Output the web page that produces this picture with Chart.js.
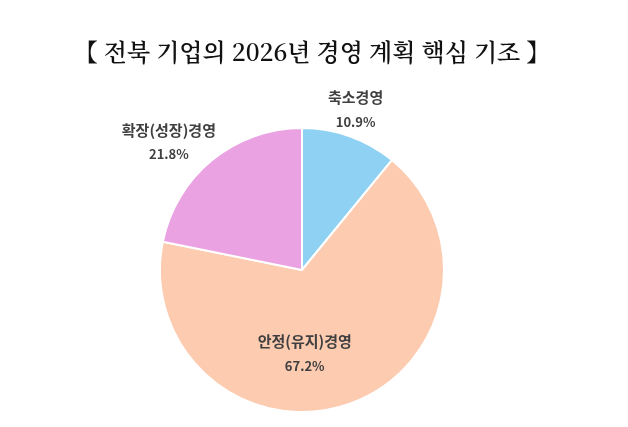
<!DOCTYPE html>
<html><head><meta charset="utf-8">
<script src="https://cdn.jsdelivr.net/npm/chart.js@4"></script>
<style>html,body{margin:0;padding:0;background:#fff}#w{width:628px;height:427px}</style>
</head><body><div id="w"><canvas id="c"></canvas></div>
<script>
const titleText = '【 전북 기업의 2026년 경영 계획 핵심 기조 】';
const categories = ['축소경영', '안정(유지)경영', '확장(성장)경영'];
const values = [10.9, 67.2, 21.8];
const colors = ['#8ED1F2', '#FCCBB0', '#EAA2E2'];
// label placement: [angle offset (rad), radius factor]
const labelPos = [[-0.02, 1.19], [0.31, 0.59], [-0.12, 1.30]];

const labels = {
  id: 'lbl',
  afterDraw(chart) {
    const ctx = chart.ctx;
    ctx.save();
    ctx.fillStyle = '#111';
    ctx.font = '600 24px "Noto Serif CJK KR", "Noto Sans CJK KR", serif';
    ctx.textAlign = 'center'; ctx.textBaseline = 'middle';
    ctx.fillText(titleText, 312, 52);
    const meta = chart.getDatasetMeta(0);
    meta.data.forEach((arc, i) => {
      const p = arc.getProps(['x','y','startAngle','endAngle','outerRadius'], true);
      const a = (p.startAngle + p.endAngle) / 2 + labelPos[i][0];
      const r = p.outerRadius * labelPos[i][1];
      const x = p.x + Math.cos(a) * r, y = p.y + Math.sin(a) * r;
      ctx.fillStyle = '#404040';
      ctx.font = 'bold 15px "Noto Sans CJK KR"';
      ctx.fillText(categories[i], x, y - 12);
      ctx.font = 'bold 13px "Noto Sans CJK KR"';
      ctx.fillText(values[i].toFixed(1) + '%', x, y + 12);
    });
    ctx.restore();
  }
};

new Chart(document.getElementById('c'), {
  type: 'pie',
  data: { labels: categories, datasets: [{ data: values, backgroundColor: colors, borderColor: '#fff', borderWidth: 2 }] },
  options: {
    responsive: true, maintainAspectRatio: false, animation: false,
    layout: { padding: { top: 127, bottom: 14, left: 159, right: 183 } },
    plugins: { legend: { display: false }, tooltip: { enabled: false }, title: { display: false } }
  },
  plugins: [labels]
});
</script></body></html>
